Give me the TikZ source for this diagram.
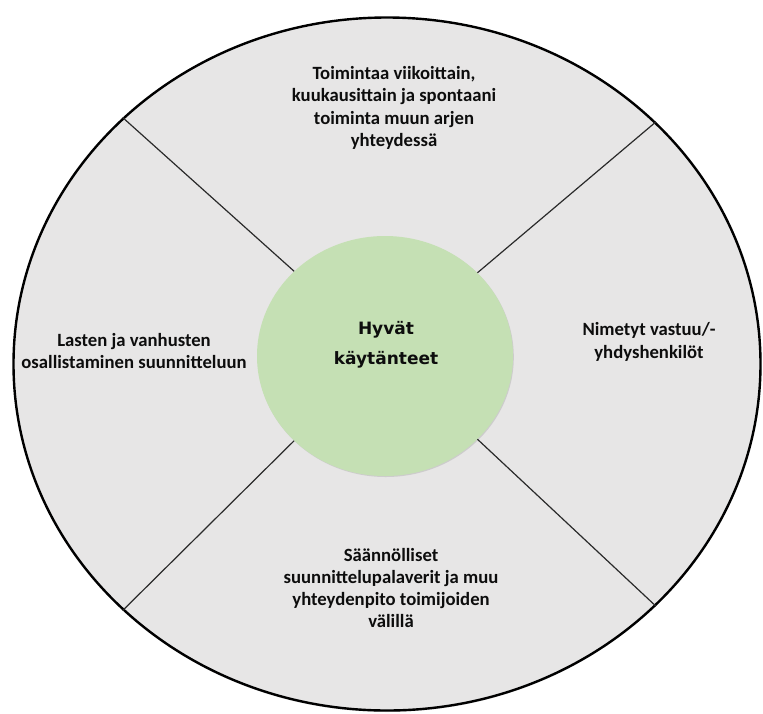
\documentclass[tikz,border=0pt]{standalone}
\usepackage{fontspec}
\setmainfont{Carlito}
\newfontfamily\centerfont{DejaVu Sans}
\usetikzlibrary{shapes.geometric,shadows}
\definecolor{ringgray}{HTML}{E7E6E6}
\definecolor{coregreen}{HTML}{C5E0B4}
\definecolor{spokegray}{HTML}{2A2A2A}
\definecolor{txt}{HTML}{0D0D0D}
\tikzset{
  ringshape/.style={ellipse, draw=black, line width=2.4pt, fill=ringgray, inner sep=0pt,
    minimum width=747pt, minimum height=693pt,
    drop shadow={opacity=0.25, shadow xshift=0pt, shadow yshift=-1.5pt}},
  coreshape/.style={ellipse, fill=coregreen, inner sep=0pt,
    minimum width=256pt, minimum height=240pt,
    drop shadow={opacity=0.25, shadow xshift=0.8pt, shadow yshift=-1pt}},
  spoke/.style={draw=spokegray, line width=1.2pt},
  label/.style={align=center, text=txt, inner sep=0pt,
    font=\fontsize{18.7}{22.3}\selectfont\bfseries},
  corelabel/.style={align=center, text=txt, inner sep=0pt,
    font=\centerfont\fontsize{17}{30}\selectfont\bfseries}
}
\begin{document}
\begin{tikzpicture}[x=1pt,y=-1pt]
\useasboundingbox (0,0) rectangle (763,713);
\node[ringshape] (ring) at (387,364) {};
\node[coreshape] (core) at (385,356) {};
\draw[spoke] (core.137) -- (ring.137);
\draw[spoke] (core.42) -- (ring.42);
\draw[spoke] (core.-42) -- (ring.-42);
\draw[spoke] (core.223) -- (ring.223);
\node[corelabel] (center) at (386,345) {Hyvät\\käytänteet};
\node[label] (top) at (394,108) {Toimintaa viikoittain,\\kuukausittain ja spontaani\\toiminta muun arjen\\yhteydessä};
\node[label] (left) at (134,351) {Lasten ja vanhusten\\osallistaminen suunnitteluun};
\node[label] (right) at (649,342) {Nimetyt vastuu/-\\yhdyshenkilöt};
\node[label] (bottom) at (391,588) {Säännölliset\\suunnittelupalaverit ja muu\\yhteydenpito toimijoiden\\välillä};
\end{tikzpicture}
\end{document}
